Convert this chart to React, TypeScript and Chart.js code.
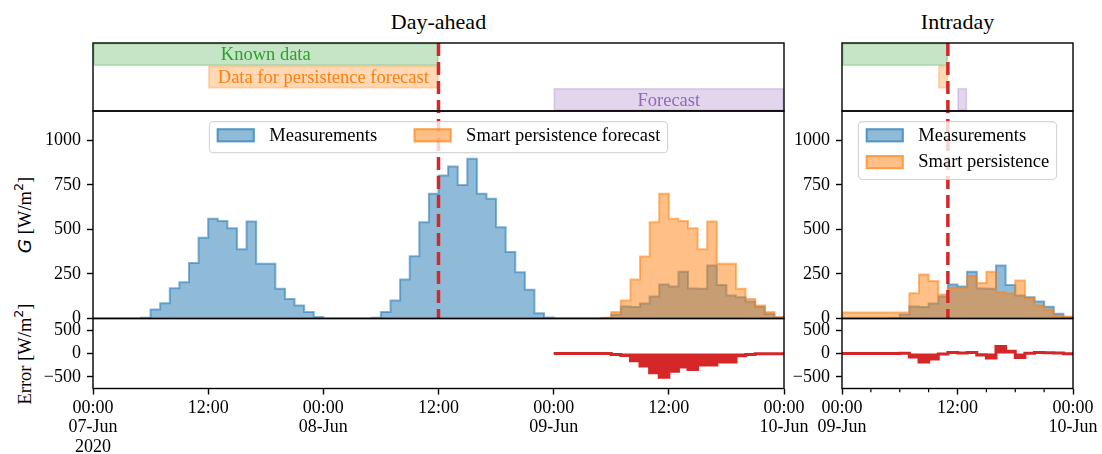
import React, { useEffect, useRef } from "react";
import { Chart, registerables } from "chart.js";

Chart.register(...registerables);

const SERIF = "'Liberation Serif', 'Times New Roman', Times, serif";

// ---------------- categories / ticks ----------------
const timelineLabels = ["Known data", "Data for persistence forecast", "Forecast"];
const dayAheadSpans: [number, number][] = [[0, 36], [12, 36], [48, 72]];
const intradaySpans: [number, number][] = [[0, 11], [10, 11], [12, 13]];
const dayAheadIssueHour = 36;
const intradayIssueHour = 11;

const gTicks = [0, 250, 500, 750, 1000];
const gMax = 1165;
const errorTicks = [-500, 0, 500];
const errorLimit = 750;

const dayAheadXTicks = [0, 12, 24, 36, 48, 60, 72];
const dayAheadXLabels: (string | string[])[] = [
  ["00:00", "07-Jun", "2020"], "12:00", ["00:00", "08-Jun"], "12:00",
  ["00:00", "09-Jun"], "12:00", ["00:00", "10-Jun"],
];
const intradayXTicks = [0, 12, 24];
const intradayXMinorTicks = [3, 6, 9, 15, 18, 21];
const intradayXLabels: (string | string[])[] = [["00:00", "09-Jun"], "12:00", ["00:00", "10-Jun"]];

// ---------------- series (hourly, W/m2) ----------------
const measJun07 = [0, 0, 0, 0, 0, 4, 51, 86, 170, 204, 311, 453, 560, 547, 507, 389, 545, 307, 307, 167, 110, 73, 36, 8];
const measJun08 = [0, 0, 0, 0, 0, 4, 36, 101, 219, 350, 541, 700, 803, 854, 750, 897, 700, 672, 513, 373, 260, 161, 30, 5];
const measJun09 = [0, 0, 0, 0, 0, 3, 22, 67, 64, 84, 124, 191, 180, 263, 168, 167, 298, 188, 129, 120, 95, 66, 26, 5];
const dayAheadForecastJun09 = [0, 0, 0, 0, 0, 4, 36, 101, 219, 348, 541, 700, 560, 547, 507, 389, 545, 307, 307, 167, 110, 73, 36, 8];
const intradayForecastJun09 = [34, 34, 34, 34, 34, 34, 34, 142, 247, 210, 135, 172, 172, 238, 199, 262, 148, 140, 213, 116, 73, 49, 15, 11];
const dayAheadErrorJun09 = [0, 0, 0, 0, 0, 0, -20, -45, -158, -270, -410, -507, -381, -290, -342, -245, -248, -184, -182, -50, -20, -8, -8, -3];
const intradayErrorJun09 = [0, 0, 0, 0, 0, 0, 3, -75, -180, -120, -10, 20, 10, 24, -31, -95, 150, 50, -85, 5, 22, 16, 10, -6];

// ---------------- styling ----------------
const BLUE = "31,119,180";
const ORANGE = "255,127,14";
const GREEN = "44,160,44";
const PURPLE = "148,103,189";
const RED = "#d62728";
const rgba = (c: string, a: number) => `rgba(${c},${a})`;

const TICK_FONT = { family: SERIF, size: 18, lineHeight: 1.08 };
const TEXT_PX = 18.5;

type Area = { x: number; y: number; w: number; h: number };
type Pad = { l: number; t: number; r: number; b: number };

const fixW = (w: number) => (s: any) => {
  s.width = w;
  s.paddingLeft = 0; s.paddingRight = 0; s.paddingTop = 0; s.paddingBottom = 0;
};
const fixH = (h: number) => (s: any) => {
  s.height = h;
  s.paddingLeft = 0; s.paddingRight = 0; s.paddingTop = 0; s.paddingBottom = 0;
};

const tickGrid = {
  display: true, drawOnChartArea: false, drawTicks: true, tickLength: 6,
  tickColor: "#000", tickWidth: 1.4, color: "rgba(0,0,0,0)",
};
const hidden = { display: true, ticks: { display: false }, grid: { display: false }, border: { display: false } };

function stepData(start: number, values: number[]) {
  const pts = values.map((v, i) => ({ x: start + i, y: v }));
  pts.push({ x: start + values.length, y: values[values.length - 1] });
  return pts;
}

type LegendItem = { label: string; fill: string; stroke: string };
type PanelOpts = {
  vlineX?: number;
  dashPhase?: number;
  barText?: { colors: string[] };
  minorTicks?: number[];
  legend?: { items: LegendItem[]; mode: "row" | "column" };
};

function drawLegend(ctx: CanvasRenderingContext2D, a: any, items: LegendItem[], mode: "row" | "column") {
  ctx.font = `${TEXT_PX}px ${SERIF}`;
  const bp = 7.3, hl = 38, htp = 14.5, cs = 36.5, rowStep = 26.8;
  const widths = items.map((it) => ctx.measureText(it.label).width);
  let boxW: number, boxH: number;
  if (mode === "row") {
    boxW = 2 * bp + widths.reduce((s, w) => s + hl + htp + w, 0) + cs * (items.length - 1);
    boxH = 31;
  } else {
    boxW = 2 * bp + hl + htp + Math.max(...widths);
    boxH = 31 + rowStep * (items.length - 1);
  }
  const bx = (a.left + a.right) / 2 - boxW / 2;
  const by = a.top + 10.7;
  ctx.save();
  ctx.beginPath();
  if ((ctx as any).roundRect) (ctx as any).roundRect(bx, by, boxW, boxH, 4);
  else ctx.rect(bx, by, boxW, boxH);
  ctx.fillStyle = "rgba(255,255,255,0.8)";
  ctx.fill();
  ctx.strokeStyle = "rgba(204,204,204,0.8)";
  ctx.lineWidth = 1.2;
  ctx.stroke();
  let x = bx + bp;
  items.forEach((it, i) => {
    const top = by + 6.6 + (mode === "column" ? i * rowStep : 0);
    const ix = mode === "row" ? x : bx + bp;
    ctx.fillStyle = it.fill;
    ctx.fillRect(ix, top, hl, 14);
    ctx.strokeStyle = it.stroke;
    ctx.lineWidth = 2;
    ctx.strokeRect(ix + 1, top + 1, hl - 2, 12);
    ctx.fillStyle = "#000";
    ctx.textAlign = "left";
    ctx.textBaseline = "middle";
    ctx.fillText(it.label, ix + hl + htp, top + 7.5);
    if (mode === "row") x += hl + htp + widths[i] + cs;
  });
  ctx.restore();
}

function panelPlugin(o: PanelOpts) {
  return {
    id: "panelDecor",
    afterDatasetsDraw(chart: any) {
      const { ctx, chartArea: a } = chart;
      const xs = chart.scales.x;
      ctx.save();
      if (o.barText) {
        const meta = chart.getDatasetMeta(0);
        ctx.font = `${TEXT_PX}px ${SERIF}`;
        ctx.textAlign = "center";
        ctx.textBaseline = "middle";
        meta.data.forEach((bar: any, i: number) => {
          const p = bar.getProps(["x", "base", "y"], true);
          ctx.fillStyle = o.barText!.colors[i];
          ctx.fillText(timelineLabels[i], (p.x + p.base) / 2, p.y + 1);
        });
      }
      if (o.vlineX !== undefined) {
        ctx.save();
        ctx.beginPath();
        ctx.rect(a.left, a.top, a.right - a.left, a.bottom - a.top);
        ctx.clip();
        const px = xs.getPixelForValue(o.vlineX);
        ctx.strokeStyle = RED;
        ctx.lineWidth = 3.5;
        ctx.setLineDash([13, 6]);
        ctx.lineDashOffset = o.dashPhase || 0;
        ctx.beginPath();
        ctx.moveTo(px, a.top);
        ctx.lineTo(px, a.bottom);
        ctx.stroke();
        ctx.restore();
      }
      ctx.setLineDash([]);
      ctx.strokeStyle = "#000";
      ctx.lineWidth = 1.4;
      ctx.strokeRect(a.left, a.top, a.right - a.left, a.bottom - a.top);
      if (o.minorTicks) {
        ctx.lineWidth = 1.2;
        o.minorTicks.forEach((v) => {
          const px = xs.getPixelForValue(v);
          ctx.beginPath();
          ctx.moveTo(px, a.bottom);
          ctx.lineTo(px, a.bottom + 3.8);
          ctx.stroke();
        });
      }
      if (o.legend) drawLegend(ctx, a, o.legend.items, o.legend.mode);
      ctx.restore();
    },
  };
}

const baseOptions = (pad: Pad) => ({
  responsive: false,
  animation: false,
  events: [],
  layout: { padding: { left: 0, top: pad.t, right: pad.r, bottom: 0 } },
  plugins: { legend: { display: false }, tooltip: { enabled: false }, title: { display: false } },
  elements: { point: { radius: 0 } },
});

function timelineConfig(spans: [number, number][], xMax: number, vlineX: number, showText: boolean, pad: Pad, area: Area) {
  return {
    type: "bar",
    data: {
      labels: timelineLabels,
      datasets: [{
        data: spans,
        backgroundColor: [rgba(GREEN, 0.27), rgba(ORANGE, 0.3), rgba(PURPLE, 0.27)],
        borderColor: [rgba(GREEN, 0.3), rgba(ORANGE, 0.3), rgba(PURPLE, 0.3)],
        borderWidth: 1.2,
        borderSkipped: false,
        barPercentage: 1,
        categoryPercentage: 1,
      }],
    },
    options: {
      ...baseOptions(pad),
      indexAxis: "y",
      scales: {
        x: { type: "linear", min: 0, max: xMax, ...hidden, afterFit: fixH(pad.b) },
        y: { type: "category", ...hidden, afterFit: fixW(pad.l) },
      },
    },
    plugins: [panelPlugin({
      vlineX, dashPhase: area.y - 43,
      barText: showText ? { colors: [rgba(GREEN, 1), rgba(ORANGE, 1), rgba(PURPLE, 1)] } : undefined,
    })],
  };
}

function gConfig(xMax: number, measStart: number, meas: number[], fcStart: number, fc: number[],
  fcLabel: string, mode: "row" | "column", vlineX: number, pad: Pad, area: Area) {
  return {
    type: "line",
    data: {
      datasets: [
        {
          label: "Measurements", data: stepData(measStart, meas), stepped: "before", fill: "origin",
          backgroundColor: rgba(BLUE, 0.5), borderColor: rgba(BLUE, 0.55), borderWidth: 2, pointRadius: 0, order: 2, clip: 0,
        },
        {
          label: fcLabel, data: stepData(fcStart, fc), stepped: "before", fill: "origin",
          backgroundColor: rgba(ORANGE, 0.5), borderColor: rgba(ORANGE, 0.55), borderWidth: 2, pointRadius: 0, order: 1, clip: 0,
        },
      ],
    },
    options: {
      ...baseOptions(pad),
      scales: {
        x: { type: "linear", min: 0, max: xMax, ...hidden, afterFit: fixH(pad.b) },
        y: {
          type: "linear", min: 0, max: gMax,
          afterBuildTicks: (s: any) => { s.ticks = gTicks.map((v) => ({ value: v })); },
          ticks: { font: TICK_FONT, color: "#000", padding: 6, callback: (v: any) => String(v) },
          grid: tickGrid, border: { display: false }, afterFit: fixW(pad.l),
        },
      },
    },
    plugins: [panelPlugin({
      vlineX, dashPhase: area.y - 43,
      legend: {
        mode,
        items: [
          { label: "Measurements", fill: rgba(BLUE, 0.5), stroke: rgba(BLUE, 0.55) },
          { label: fcLabel, fill: rgba(ORANGE, 0.5), stroke: rgba(ORANGE, 0.55) },
        ],
      },
    })],
  };
}

function errorConfig(xMax: number, start: number, err: number[], xTicks: number[], xLabels: (string | string[])[],
  minor: number[] | undefined, pad: Pad) {
  return {
    type: "line",
    data: {
      datasets: [{
        label: "Error", data: stepData(start, err), stepped: "before", fill: "origin",
        backgroundColor: RED, borderColor: RED, borderWidth: 3, pointRadius: 0,
      }],
    },
    options: {
      ...baseOptions(pad),
      scales: {
        x: {
          type: "linear", min: 0, max: xMax,
          afterBuildTicks: (s: any) => { s.ticks = xTicks.map((v) => ({ value: v })); },
          ticks: {
            font: TICK_FONT, color: "#000", padding: 4, autoSkip: false, maxRotation: 0, minRotation: 0,
            callback: (v: any) => xLabels[xTicks.indexOf(Number(v))],
          },
          grid: tickGrid, border: { display: false }, afterFit: fixH(pad.b),
        },
        y: {
          type: "linear", min: -errorLimit, max: errorLimit,
          afterBuildTicks: (s: any) => { s.ticks = errorTicks.map((v) => ({ value: v })); },
          ticks: {
            font: TICK_FONT, color: "#000", padding: 6,
            callback: (v: any) => (Number(v) < 0 ? "\u2212" + Math.abs(Number(v)) : String(v)),
          },
          grid: tickGrid, border: { display: false }, afterFit: fixW(pad.l),
        },
      },
    },
    plugins: [panelPlugin({ minorTicks: minor })],
  };
}

function ChartBox({ area, pad, make }: { area: Area; pad: Pad; make: () => any }) {
  const ref = useRef<HTMLCanvasElement>(null);
  const W = Math.round(area.w + pad.l + pad.r);
  const H = Math.round(area.h + pad.t + pad.b);
  useEffect(() => {
    const chart = new Chart(ref.current as HTMLCanvasElement, make());
    return () => chart.destroy();
  }, []);
  return (
    <canvas
      ref={ref}
      width={W}
      height={H}
      style={{ position: "absolute", left: area.x - pad.l, top: area.y - pad.t, width: W, height: H }}
    />
  );
}

// layout (pixels)
const DA_X = 93, DA_W = 691, ID_X = 842, ID_W = 231;
const TOP_Y = 43, TOP_H = 68, G_Y = 111, G_H = 207.5, E_Y = 318.5, E_H = 70;

export default function App() {
  const daTop: Area = { x: DA_X, y: TOP_Y, w: DA_W, h: TOP_H };
  const idTop: Area = { x: ID_X, y: TOP_Y, w: ID_W, h: TOP_H };
  const daG: Area = { x: DA_X, y: G_Y, w: DA_W, h: G_H };
  const idG: Area = { x: ID_X, y: G_Y, w: ID_W, h: G_H };
  const daE: Area = { x: DA_X, y: E_Y, w: DA_W, h: E_H };
  const idE: Area = { x: ID_X, y: E_Y, w: ID_W, h: E_H };
  const padDaTop: Pad = { l: 93, t: 10, r: 46, b: 5 };
  const padIdTop: Pad = { l: 62, t: 10, r: 29, b: 5 };
  const padDaG: Pad = { l: 93, t: 10, r: 46, b: 5.5 };
  const padIdG: Pad = { l: 62, t: 10, r: 29, b: 5.5 };
  const padDaE: Pad = { l: 93, t: 10.5, r: 46, b: 65.5 };
  const padIdE: Pad = { l: 62, t: 10.5, r: 29, b: 65.5 };

  const measAll = [...measJun07, ...measJun08, ...measJun09];

  const titleStyle: React.CSSProperties = {
    position: "absolute", top: 22, transform: "translate(-50%,-50%)", font: `22px ${SERIF}`,
    whiteSpace: "nowrap", lineHeight: 1, color: "#000",
  };
  const ylabStyle: React.CSSProperties = {
    position: "absolute", left: 25, transform: "translate(-50%,-50%) rotate(-90deg)", font: `${TEXT_PX}px ${SERIF}`,
    whiteSpace: "nowrap", lineHeight: 1, color: "#000",
  };
  const sup: React.CSSProperties = { fontFamily: "'DejaVu Sans'", fontSize: "0.68em", verticalAlign: "0.6em", lineHeight: 0 };

  return (
    <div style={{ position: "absolute", left: 0, top: 0, width: 1102, height: 454, overflow: "hidden", background: "#fff" }}>
      <div style={{ ...titleStyle, left: DA_X + DA_W / 2 }}>Day-ahead</div>
      <div style={{ ...titleStyle, left: ID_X + ID_W / 2 }}>Intraday</div>
      <div style={{ ...ylabStyle, top: G_Y + G_H / 2 }}>
        <span style={{ fontFamily: "'DejaVu Sans'", fontStyle: "italic" }}>G</span> [W/m<sup style={sup}>2</sup>]
      </div>
      <div style={{ ...ylabStyle, top: E_Y + E_H / 2 }}>
        Error [W/m<sup style={sup}>2</sup>]
      </div>

      <ChartBox area={daTop} pad={padDaTop} make={() => timelineConfig(dayAheadSpans, 72, dayAheadIssueHour, true, padDaTop, daTop)} />
      <ChartBox area={idTop} pad={padIdTop} make={() => timelineConfig(intradaySpans, 24, intradayIssueHour, false, padIdTop, idTop)} />
      <ChartBox area={daG} pad={padDaG} make={() => gConfig(72, 0, measAll, 48, dayAheadForecastJun09, "Smart persistence forecast", "row", dayAheadIssueHour, padDaG, daG)} />
      <ChartBox area={idG} pad={padIdG} make={() => gConfig(24, 0, measJun09, 0, intradayForecastJun09, "Smart persistence", "column", intradayIssueHour, padIdG, idG)} />
      <ChartBox area={daE} pad={padDaE} make={() => errorConfig(72, 48, dayAheadErrorJun09, dayAheadXTicks, dayAheadXLabels, undefined, padDaE)} />
      <ChartBox area={idE} pad={padIdE} make={() => errorConfig(24, 0, intradayErrorJun09, intradayXTicks, intradayXLabels, intradayXMinorTicks, padIdE)} />
    </div>
  );
}
